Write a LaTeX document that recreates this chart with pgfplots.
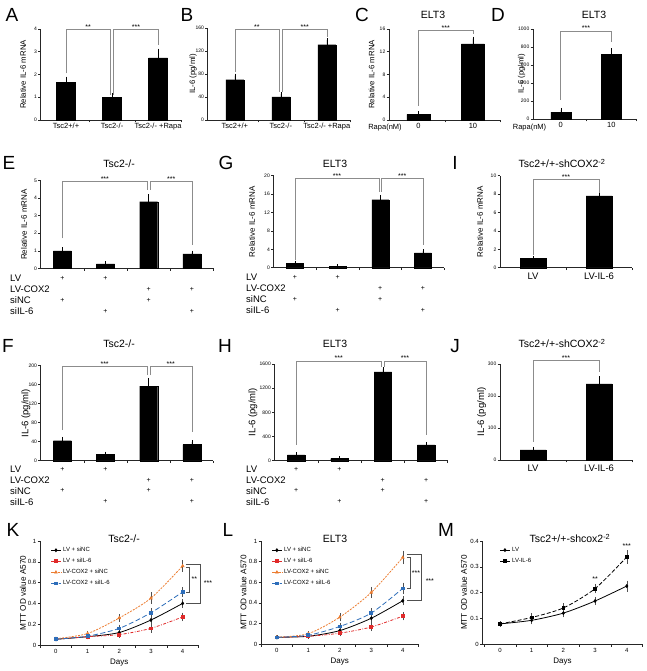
\documentclass[border=0pt]{standalone}
\usepackage{pgfplots}
\pgfplotsset{compat=1.18}
\usepackage{fontspec}
\setmainfont{Liberation Sans}
\newcommand{\fs}[1]{\fontsize{#1}{#1}\selectfont}
\definecolor{brk}{HTML}{8C8C8C}
\definecolor{cred}{HTML}{E02A2A}
\definecolor{corg}{HTML}{EC7D31}
\definecolor{cblu}{HTML}{2E6EBA}
\definecolor{cerr}{HTML}{505050}
\tikzset{
  brack/.style={brk, line width=0.6pt},
  stars/.style={font=\fs{7}, anchor=base, inner sep=0pt},
  plus/.style={font=\fs{7}, inner sep=0pt},
  rowlab/.style={font=\fs{9.5}, anchor=west, inner sep=0pt},
  ttl/.style={font=\fs{10.5}, anchor=base, inner sep=0pt},
  let/.style={font=\fs{19}, anchor=base, inner sep=0pt},
}
\pgfplotsset{
  base/.style={
    scale only axis, anchor=south west, clip=false,
    axis x line*=bottom, axis y line*=left,
    axis line style={-, line width=0.6pt, black!85},
    tick align=outside,
    major tick length=2.5pt,
    tick style={line width=0.5pt, black!85},
    ymin=0, enlargelimits=false,
    /pgf/number format/assume math mode=true,
    /pgf/number format/1000 sep={},
    scaled y ticks=false,
    yticklabel style={font=\fs{5}, inner sep=1pt},
    xticklabel style={font=\fs{7.5}, inner sep=1pt, yshift=-2pt},
    ylabel style={at={(axis description cs:0,0.5)}, anchor=center},
    xticklabels={,,,,,,,},
    extra x tick style={major tick length=0pt, tick style={draw=none}},
  },
  bars/.style={base, ybar, bar width=#1},
  barplot/.style={fill=black, draw=black, line width=0.2pt,
    error bars/y dir=plus, error bars/y explicit,
    error bars/error bar style={line width=0.5pt, black},
    error bars/error mark options={mark size=2pt, line width=0.5pt, black}},
  lines/.style={base, xmin=-0.5, xmax=4.5,
    xtick={-0.5,0.5,1.5,2.5,3.5,4.5},
    extra x ticks={0,1,2,3,4}, extra x tick labels={0,1,2,3,4},
    xticklabel style={font=\fs{6}, yshift=-1pt}, yticklabel style={font=\fs{6}},
    xlabel={Days}, xlabel style={font=\fs{8}, at={(axis description cs:0.5,0)}, anchor=center, yshift=-18pt},
    ylabel={MTT OD value A570}, ylabel style={font=\fs{8.2}},
    legend cell align=left,
    legend style={anchor=north west, draw=none, fill=none, font=\fs{6}, row sep=1.2pt, inner sep=1pt},
    legend image code/.code={\draw[mark repeat=2, mark phase=2, ##1] plot coordinates {(0cm,0cm) (0.17cm,0cm) (0.34cm,0cm)};},
  },
  ser/.style={line width=0.8pt, smooth, tension=0.45, mark size=1.4pt, mark options={solid},
    error bars/y dir=both, error bars/y explicit,
    error bars/error bar style={cerr, line width=0.5pt, solid},
    error bars/error mark options={mark size=1.6pt, cerr, line width=0.5pt, solid}},
}
\begin{document}
\begin{tikzpicture}
\path[use as bounding box] (0,0) rectangle (646pt,671pt);

% ---------------- A
\begin{axis}[bars=19pt, at={(40.7pt,551pt)}, width=140.3pt, height=91pt,
  xmin=-0.55, xmax=2.5, ymax=4, ytick={0,1,2,3,4},
  xtick={0.5,1.5,2.5}, extra x ticks={0,1,2},
  extra x tick labels={Tsc2+/+,Tsc2-/-,Tsc2-/- +Rapa},
  ylabel={Relative IL-6 mRNA}, ylabel style={font=\fs{7.8}, yshift=17.7pt}]
\addplot[barplot] coordinates {(0,1.65) +- (0,0.17) (1,1.0) +- (0,0.08) (2,2.73) +- (0,0.32)};
\draw[brack] (0,2.05) -- (0,3.98) -- (0.96,3.98) -- (0.96,1.12);
\draw[brack] (1.03,1.12) -- (1.03,3.98) -- (2,3.98) -- (2,3.3);
\node[stars] at (0.48,3.98) {**};
\node[stars] at (1.52,3.98) {***};
\end{axis}

% ---------------- B
\begin{axis}[bars=18pt, at={(207.7pt,551pt)}, width=142.1pt, height=92pt,
  xmin=-0.59, xmax=2.5, ymax=160, ytick={0,40,80,120,160},
  xtick={0.5,1.5,2.5}, extra x ticks={0,1,2},
  extra x tick labels={Tsc2+/+,Tsc2-/-,Tsc2-/- +Rapa},
  ylabel={IL-6 (pg/ml)}, ylabel style={font=\fs{7.8}, yshift=14.7pt}]
\addplot[barplot] coordinates {(0,70) +- (0,7) (1,40) +- (0,5) (2,131) +- (0,8)};
\draw[brack] (0,84) -- (0,157.7) -- (0.96,157.7) -- (0.96,49);
\draw[brack] (1.03,49) -- (1.03,157.7) -- (2,157.7) -- (2,145);
\node[stars] at (0.48,157.7) {**};
\node[stars] at (1.52,157.7) {***};
\end{axis}

% ---------------- C
\begin{axis}[bars=23pt, at={(389pt,551pt)}, width=111.2pt, height=91pt,
  xmin=-0.54, xmax=1.5, ymax=16, ytick={0,4,8,12,16},
  xtick={0.5,1.5}, extra x ticks={0,1}, extra x tick labels={0,10},
  ylabel={Relative IL-6 mRNA}, ylabel style={font=\fs{7.8}, yshift=17.3pt}]
\addplot[barplot] coordinates {(0,1.0) +- (0,0.15) (1,13.4) +- (0,0.9)};
\draw[brack] (0,2.46) -- (0,15.8) -- (1,15.8) -- (1,15.2);
\node[stars] at (0.5,15.8) {***};
\end{axis}

% ---------------- D
\begin{axis}[bars=20pt, at={(533pt,552pt)}, width=103.5pt, height=90pt,
  xmin=-0.55, xmax=1.5, ymax=1000, ytick={0,200,400,600,800,1000},
  xtick={0.5,1.5}, extra x ticks={0,1}, extra x tick labels={0,10},
  ylabel={IL-6 (pg/ml)}, ylabel style={font=\fs{7.8}, yshift=11.3pt}]
\addplot[barplot] coordinates {(0,75) +- (0,25) (1,720) +- (0,45)};
\draw[brack] (0,211) -- (0,978) -- (1,978) -- (1,859);
\node[stars] at (0.5,978) {***};
\end{axis}

% ---------------- E
\begin{axis}[bars=18pt, at={(40.7pt,402.7pt)}, width=172.8pt, height=87.6pt,
  xmin=-0.5, xmax=3.5, ymax=5, ytick={0,1,2,3,4,5},
  xtick={0.5,1.5,2.5,3.5},
  ylabel={Relative IL-6 mRNA}, ylabel style={font=\fs{8}, yshift=16.7pt}]
\addplot[barplot] coordinates {(0,1.0) +- (0,0.1) (1,0.25) +- (0,0.05) (2,3.8) +- (0,0.3) (3,0.82) +- (0,0.08)};
\draw[brack] (0,1.71) -- (0,4.96) -- (1.97,4.96) -- (1.97,4.47);
\draw[brack] (2.04,4.47) -- (2.04,4.96) -- (3,4.96) -- (3,1.33);
\node[stars] at (0.985,4.96) {***};
\node[stars] at (2.52,4.96) {***};
\node[plus, yshift=-9.7pt] at (0,0) {+};
\node[plus, yshift=-9.7pt] at (1,0) {+};
\node[plus, yshift=-20.7pt] at (2,0) {+};
\node[plus, yshift=-20.7pt] at (3,0) {+};
\node[plus, yshift=-31.7pt] at (0,0) {+};
\node[plus, yshift=-31.7pt] at (2,0) {+};
\node[plus, yshift=-42.7pt] at (1,0) {+};
\node[plus, yshift=-42.7pt] at (3,0) {+};
\node[rowlab, xshift=-30.7pt, yshift=-9.7pt] at (rel axis cs:0,0) {LV};
\node[rowlab, xshift=-30.7pt, yshift=-20.7pt] at (rel axis cs:0,0) {LV-COX2};
\node[rowlab, xshift=-30.7pt, yshift=-31.7pt] at (rel axis cs:0,0) {siNC};
\node[rowlab, xshift=-30.7pt, yshift=-42.7pt] at (rel axis cs:0,0) {siIL-6};
\end{axis}

% ---------------- G
\begin{axis}[bars=17pt, at={(273.5pt,403.3pt)}, width=170.8pt, height=92pt,
  xmin=-0.5, xmax=3.5, ymax=20, ytick={0,4,8,12,16,20},
  xtick={0.5,1.5,2.5,3.5},
  ylabel={Relative IL-6 mRNA}, ylabel style={font=\fs{8}, yshift=21.6pt}]
\addplot[barplot] coordinates {(0,1.0) +- (0,0.1) (1,0.3) +- (0,0.05) (2,14.8) +- (0,0.6) (3,3.2) +- (0,0.4)};
\draw[brack] (0,1.67) -- (0,19.4) -- (1.97,19.4) -- (1.97,16.5);
\draw[brack] (2.03,16.5) -- (2.03,19.4) -- (3,19.4) -- (3,4.9);
\node[stars] at (0.985,19.4) {***};
\node[stars] at (2.515,19.4) {***};
\node[plus, yshift=-9.7pt] at (0,0) {+};
\node[plus, yshift=-9.7pt] at (1,0) {+};
\node[plus, yshift=-20.7pt] at (2,0) {+};
\node[plus, yshift=-20.7pt] at (3,0) {+};
\node[plus, yshift=-31.7pt] at (0,0) {+};
\node[plus, yshift=-31.7pt] at (2,0) {+};
\node[plus, yshift=-42.7pt] at (1,0) {+};
\node[plus, yshift=-42.7pt] at (3,0) {+};
\node[rowlab, xshift=-27.5pt, yshift=-9.7pt] at (rel axis cs:0,0) {LV};
\node[rowlab, xshift=-27.5pt, yshift=-20.7pt] at (rel axis cs:0,0) {LV-COX2};
\node[rowlab, xshift=-27.5pt, yshift=-31.7pt] at (rel axis cs:0,0) {siNC};
\node[rowlab, xshift=-27.5pt, yshift=-42.7pt] at (rel axis cs:0,0) {siIL-6};
\end{axis}

% ---------------- I
\begin{axis}[bars=26pt, at={(500pt,403.3pt)}, width=132pt, height=92pt,
  xmin=-0.5, xmax=1.5, ymax=10, ytick={0,2,4,6,8,10},
  xtick={0.5,1.5}, extra x ticks={0,1}, extra x tick labels={LV,LV-IL-6},
  xticklabel style={font=\fs{9.5}, yshift=-2pt},
  ylabel={Relative IL-6 mRNA}, ylabel style={font=\fs{8}, yshift=20pt}]
\addplot[barplot] coordinates {(0,1.0) +- (0,0.08) (1,7.8) +- (0,0.4)};
\draw[brack] (0,1.38) -- (0,9.6) -- (1,9.6) -- (1,8.1);
\node[stars] at (0.5,9.6) {***};
\end{axis}

% ---------------- F
\begin{axis}[bars=18pt, at={(40.7pt,210.3pt)}, width=172.8pt, height=95pt,
  xmin=-0.5, xmax=3.5, ymax=200, ytick={0,40,80,120,160,200},
  xtick={0.5,1.5,2.5,3.5},
  ylabel={IL-6 (pg/ml)}, ylabel style={font=\fs{9.5}, yshift=14.8pt}]
\addplot[barplot] coordinates {(0,42) +- (0,4) (1,13) +- (0,2) (2,157) +- (0,13) (3,34) +- (0,5)};
\draw[brack] (0,64.6) -- (0,198) -- (1.96,198) -- (1.96,180);
\draw[brack] (2.03,180) -- (2.03,198) -- (3,198) -- (3,61);
\node[stars] at (0.98,198) {***};
\node[stars] at (2.51,198) {***};
\node[plus, yshift=-8.3pt] at (0,0) {+};
\node[plus, yshift=-8.3pt] at (1,0) {+};
\node[plus, yshift=-19.3pt] at (2,0) {+};
\node[plus, yshift=-19.3pt] at (3,0) {+};
\node[plus, yshift=-30pt] at (0,0) {+};
\node[plus, yshift=-30pt] at (2,0) {+};
\node[plus, yshift=-41pt] at (1,0) {+};
\node[plus, yshift=-41pt] at (3,0) {+};
\node[rowlab, xshift=-30.7pt, yshift=-8.3pt] at (rel axis cs:0,0) {LV};
\node[rowlab, xshift=-30.7pt, yshift=-19.3pt] at (rel axis cs:0,0) {LV-COX2};
\node[rowlab, xshift=-30.7pt, yshift=-30pt] at (rel axis cs:0,0) {siNC};
\node[rowlab, xshift=-30.7pt, yshift=-41pt] at (rel axis cs:0,0) {siIL-6};
\end{axis}

% ---------------- H
\begin{axis}[bars=17.5pt, at={(274.5pt,210.3pt)}, width=173.2pt, height=96.7pt,
  xmin=-0.5, xmax=3.5, ymax=1600, ytick={0,400,800,1200,1600},
  xtick={0.5,1.5,2.5,3.5},
  ylabel={IL-6 (pg/ml)}, ylabel style={font=\fs{9.5}, yshift=21.5pt}]
\addplot[barplot] coordinates {(0,95) +- (0,15) (1,35) +- (0,5) (2,1470) +- (0,40) (3,260) +- (0,20)};
\draw[brack] (0,260) -- (0,1650) -- (1.97,1650) -- (1.97,1555);
\draw[brack] (2.03,1555) -- (2.03,1650) -- (3,1650) -- (3,425);
\node[stars] at (0.985,1650) {***};
\node[stars] at (2.515,1650) {***};
\node[plus, yshift=-8.3pt] at (0,0) {+};
\node[plus, yshift=-8.3pt] at (1,0) {+};
\node[plus, yshift=-19.3pt] at (2,0) {+};
\node[plus, yshift=-19.3pt] at (3,0) {+};
\node[plus, yshift=-30pt] at (0,0) {+};
\node[plus, yshift=-30pt] at (2,0) {+};
\node[plus, yshift=-41pt] at (1,0) {+};
\node[plus, yshift=-41pt] at (3,0) {+};
\node[rowlab, xshift=-28.5pt, yshift=-8.3pt] at (rel axis cs:0,0) {LV};
\node[rowlab, xshift=-28.5pt, yshift=-19.3pt] at (rel axis cs:0,0) {LV-COX2};
\node[rowlab, xshift=-28.5pt, yshift=-30pt] at (rel axis cs:0,0) {siNC};
\node[rowlab, xshift=-28.5pt, yshift=-41pt] at (rel axis cs:0,0) {siIL-6};
\end{axis}

% ---------------- J
\begin{axis}[bars=26pt, at={(500pt,211pt)}, width=132pt, height=96pt,
  xmin=-0.5, xmax=1.5, ymax=300, ytick={0,100,200,300},
  xtick={0.5,1.5}, extra x ticks={0,1}, extra x tick labels={LV,LV-IL-6},
  xticklabel style={font=\fs{9.5}, yshift=-2pt},
  ylabel={IL-6 (pg/ml)}, ylabel style={font=\fs{9.5}, yshift=18.3pt}]
\addplot[barplot] coordinates {(0,32) +- (0,3) (1,238) +- (0,17)};
\draw[brack] (0,57) -- (0,312) -- (1,312) -- (1,276);
\node[stars] at (0.5,312) {***};
\end{axis}

% ---------------- K
\begin{axis}[lines, at={(40pt,26pt)}, width=158.5pt, height=104pt,
  ymax=1, ytick={0,0.2,0.4,0.6,0.8,1},
  ylabel style={yshift=17pt},
  legend style={at={(0.06,0.97)}}]
\addplot[ser, black, mark=diamond*] coordinates {(0,0.055) +- (0,0.005) (1,0.08) +- (0,0.01) (2,0.12) +- (0,0.015) (3,0.24) +- (0,0.03) (4,0.40) +- (0,0.025)};
\addlegendentry{LV + siNC}
\addplot[ser, cred, mark=square*, dash pattern=on 3pt off 1.5pt on 0.8pt off 1.5pt] coordinates {(0,0.055) +- (0,0.005) (1,0.08) +- (0,0.01) (2,0.10) +- (0,0.015) (3,0.16) +- (0,0.025) (4,0.27) +- (0,0.025)};
\addlegendentry{LV + siIL-6}
\addplot[ser, corg, mark=triangle*, dash pattern=on 2pt off 1.2pt] coordinates {(0,0.06) +- (0,0.005) (1,0.11) +- (0,0.01) (2,0.26) +- (0,0.02) (3,0.45) +- (0,0.04) (4,0.76) +- (0,0.04)};
\addlegendentry{LV-COX2 + siNC}
\addplot[ser, cblu, mark=square*, dash pattern=on 5pt off 2.5pt] coordinates {(0,0.055) +- (0,0.005) (1,0.085) +- (0,0.01) (2,0.16) +- (0,0.02) (3,0.31) +- (0,0.03) (4,0.51) +- (0,0.03)};
\addlegendentry{LV-COX2 + siIL-6}
\draw[cerr, line width=0.7pt] (4.1,0.78) -- (4.55,0.78) -- (4.55,0.40) -- (4.1,0.40);
\draw[cerr, line width=0.7pt] (4.1,0.745) -- (4.22,0.745) -- (4.22,0.51) -- (4.1,0.51);
\node[stars] at (4.37,0.61) {**};
\node[stars] at (4.8,0.57) {***};
\end{axis}

% ---------------- L
\begin{axis}[lines, at={(261pt,27pt)}, width=157.5pt, height=103pt,
  ymax=1, ytick={0,0.2,0.4,0.6,0.8,1},
  ylabel style={yshift=17.5pt},
  legend style={at={(0.06,0.97)}}]
\addplot[ser, black, mark=diamond*] coordinates {(0,0.065) +- (0,0.005) (1,0.075) +- (0,0.01) (2,0.13) +- (0,0.02) (3,0.25) +- (0,0.03) (4,0.42) +- (0,0.03)};
\addlegendentry{LV + siNC}
\addplot[ser, cred, mark=square*, dash pattern=on 3pt off 1.5pt on 0.8pt off 1.5pt] coordinates {(0,0.065) +- (0,0.005) (1,0.075) +- (0,0.01) (2,0.105) +- (0,0.015) (3,0.165) +- (0,0.025) (4,0.27) +- (0,0.025)};
\addlegendentry{LV + siIL-6}
\addplot[ser, corg, mark=triangle*, dash pattern=on 2pt off 1.2pt] coordinates {(0,0.065) +- (0,0.005) (1,0.10) +- (0,0.01) (2,0.26) +- (0,0.025) (3,0.50) +- (0,0.04) (4,0.84) +- (0,0.05)};
\addlegendentry{LV-COX2 + siNC}
\addplot[ser, cblu, mark=square*, dash pattern=on 5pt off 2.5pt] coordinates {(0,0.065) +- (0,0.005) (1,0.085) +- (0,0.01) (2,0.17) +- (0,0.02) (3,0.30) +- (0,0.03) (4,0.54) +- (0,0.04)};
\addlegendentry{LV-COX2 + siIL-6}
\draw[cerr, line width=0.7pt] (4.13,0.874) -- (4.6,0.874) -- (4.6,0.427) -- (4.13,0.427);
\draw[cerr, line width=0.7pt] (4.13,0.838) -- (4.23,0.838) -- (4.23,0.54) -- (4.13,0.54);
\node[stars] at (4.42,0.665) {***};
\node[stars] at (4.86,0.585) {***};
\end{axis}

% ---------------- M
\begin{axis}[lines, at={(482.5pt,27pt)}, width=160.1pt, height=103pt,
  xmin=-0.55, ymax=0.4, ytick={0,0.1,0.2,0.3,0.4},
  ylabel style={yshift=18.5pt},
  legend style={at={(0.1,0.97)}}]
\addplot[ser, black, mark=diamond*] coordinates {(0,0.078) +- (0,0.004) (1,0.092) +- (0,0.01) (2,0.12) +- (0,0.01) (3,0.167) +- (0,0.01) (4,0.225) +- (0,0.015)};
\addlegendentry{LV}
\addplot[ser, black, mark=square*, dash pattern=on 4pt off 2pt] coordinates {(0,0.078) +- (0,0.004) (1,0.103) +- (0,0.01) (2,0.14) +- (0,0.013) (3,0.215) +- (0,0.012) (4,0.338) +- (0,0.02)};
\addlegendentry{LV-IL-6}
\node[stars] at (3,0.243) {**};
\node[stars] at (4,0.372) {***};
\end{axis}

% ---------------- letters, titles, extra labels
\node[let] at (12pt,649.3pt) {A};
\node[let] at (187pt,649.3pt) {B};
\node[let] at (362pt,649.3pt) {C};
\node[let] at (498pt,649.3pt) {D};
\node[let] at (9pt,501pt) {E};
\node[let] at (226pt,501pt) {G};
\node[let] at (455pt,501pt) {I};
\node[let] at (8pt,318pt) {F};
\node[let] at (225pt,318pt) {H};
\node[let] at (455pt,318pt) {J};
\node[let] at (13pt,134pt) {K};
\node[let] at (228pt,134pt) {L};
\node[let] at (446pt,134pt) {M};
\node[ttl] at (433pt,652.7pt) {ELT3};
\node[ttl] at (594pt,652.7pt) {ELT3};
\node[ttl] at (119pt,503pt) {Tsc2-/-};
\node[ttl] at (335pt,503pt) {ELT3};
\node[ttl] at (562pt,503pt) {Tsc2+/+-shCOX2\textsuperscript{-2}};
\node[ttl] at (119pt,323pt) {Tsc2-/-};
\node[ttl] at (335pt,323pt) {ELT3};
\node[ttl] at (562pt,323pt) {Tsc2+/+-shCOX2\textsuperscript{-2}};
\node[ttl] at (124pt,128pt) {Tsc2-/-};
\node[ttl] at (335pt,128pt) {ELT3};
\node[ttl] at (570pt,128pt) {Tsc2+/+-shcox2\textsuperscript{-2}};
\node[font=\fs{7.5}, anchor=base, inner sep=0pt] at (385pt,541pt) {Rapa(nM)};
\node[font=\fs{7.5}, anchor=base, inner sep=0pt] at (529.5pt,541pt) {Rapa(nM)};
\end{tikzpicture}
\end{document}
